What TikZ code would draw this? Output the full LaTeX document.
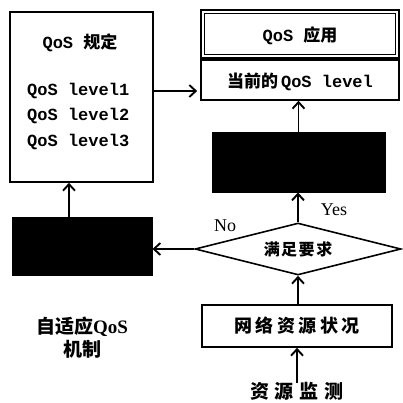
\documentclass[tikz,border=0pt]{standalone}
\usepackage{fontspec}
\setmainfont{Liberation Serif}
\newfontfamily\cjk{Noto Sans CJK SC}
\newfontfamily\mono{Liberation Mono}
\usetikzlibrary{arrows.meta,shapes.geometric}
\begin{document}
\begin{tikzpicture}[x=1pt,y=-1pt,
  box/.style={draw,line width=1.6pt,inner sep=0pt},
  blk/.style={draw,fill=black,line width=1pt,inner sep=0pt},
  txt/.style={inner sep=0pt},
  arr/.style={line width=1.8pt,-{Straight Barb[length=6.5pt,width=12pt,line width=1.9pt]}},
  mtext/.style={font=\mono\bfseries\fontsize{17}{20}\selectfont},
  ctext/.style={font=\cjk\fontsize{17}{20}\selectfont}]
\useasboundingbox (0,0) rectangle (403,403);

% left rule box
\node[box,minimum width=143pt,minimum height=170pt] (rule) at (81.5,97) {};
\node[txt,mtext] (ruleT) at (80,43) {QoS {\cjk\bfseries 规定}};
\node[txt,mtext,anchor=west] (l1) at (27,91) {QoS level1};
\node[txt,mtext,anchor=west] (l2) at (27,116) {QoS level2};
\node[txt,mtext,anchor=west] (l3) at (27,142) {QoS level3};

% application (double box)
\node[box,minimum width=198pt,minimum height=48pt] (app) at (300,34) {};
\draw[line width=1pt] ([shift={(4.5,4.5)}]app.north west) rectangle ([shift={(-4.5,-4.5)}]app.south east);
\node[txt,mtext] (appT) at (300,36) {QoS {\cjk\bfseries 应用}};

% current level
\node[box,minimum width=198pt,minimum height=40pt] (cur) at (300,80) {};
\node[txt,mtext] (curT) at (300,82) {{\cjk\bfseries 当前的}\hspace{3pt}QoS level};

% black boxes
\node[blk,minimum width=173pt,minimum height=59pt] (blackR) at (298.5,162.5) {};
\node[blk,minimum width=140pt,minimum height=58pt] (blackL) at (82,246) {};

% decision
\node[draw,diamond,aspect=4,line width=1.6pt,inner sep=0pt,minimum width=206pt,minimum height=52pt,
      font=\cjk\bfseries\fontsize{16}{18}\selectfont] (dec) at (298,249) {满\hspace{1.5pt}足\hspace{1.5pt}要\hspace{1.5pt}求};

% network status
\node[box,minimum width=190pt,minimum height=42pt,font=\cjk\bfseries\fontsize{18}{20}\selectfont] (net) at (297,326)
  {网\hspace{3.5pt}络\hspace{3.5pt}资\hspace{3.5pt}源\hspace{3.5pt}状\hspace{3.5pt}况};

% monitor text
\node[txt,font=\cjk\bfseries\fontsize{19}{21}\selectfont] (mon) at (297,391)
  {资\hspace{6pt}源\hspace{6pt}监\hspace{6pt}测};

% mechanism label
\node[txt,font=\bfseries\fontsize{19}{23}\selectfont,align=center] (mech) at (82,338)
  {{\cjk 自适应}QoS\\{\cjk 机制}};

% yes/no
\node[txt,font=\fontsize{18}{20}\selectfont] (yes) at (334,210) {Yes};
\node[txt,font=\fontsize{18}{20}\selectfont] (no) at (225,226) {No};

% arrows
\coordinate (ay) at (0,91);
\draw[arr] (rule.east |- ay) -- ([xshift=-3pt]cur.west |- ay);
\draw[arr] (blackR.north) -- (blackR.north |- cur.south);
\draw[arr] (dec.north) -- (dec.north |- blackR.south);
\draw[arr] (dec.west) -- (dec.west -| blackL.east);
\coordinate (lx) at (69,0);
\draw[arr] (blackL.north -| lx) -- (rule.south -| lx);
\draw[arr] (net.north -| dec.south) -- (dec.south);
\draw[arr] ([yshift=-1pt]mon.north) -- (mon.north |- net.south);
\end{tikzpicture}
\end{document}
